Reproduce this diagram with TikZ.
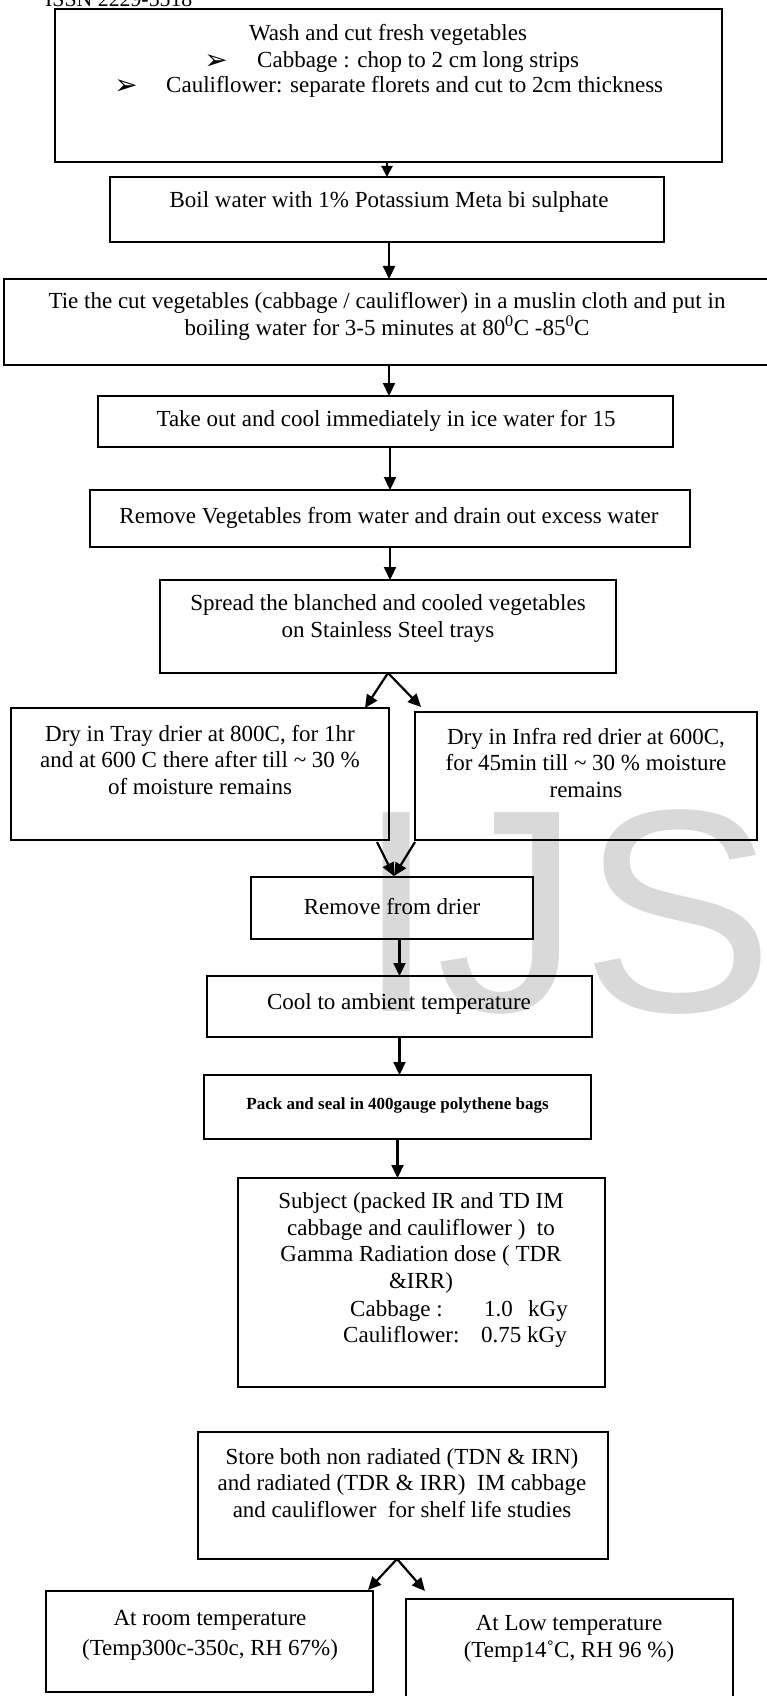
\documentclass[tikz,border=0pt]{standalone}
\usepackage{fontspec}
\setmainfont{Liberation Serif}
\newfontfamily\wmfont{Liberation Sans}
\newfontfamily\symfont{DejaVu Sans}
\usetikzlibrary{arrows.meta,calc}
\newcommand\mkbox[5]{\node[box, minimum width={#4-#2}, minimum height={#5-#3}] (#1) at ({(#2+#4)/2},{(#3+#5)/2}) {};}
\tikzset{
  box/.style={draw, line width=1.8pt, inner sep=0pt, outer sep=0pt},
  txt/.style={inner sep=0pt, align=center, font=\fontsize{23}{26.5}\selectfont},
  btxt/.style={inner sep=0pt, align=center, font=\bfseries\fontsize{17}{19}\selectfont},
  bul/.style={inner sep=0pt, font=\symfont\fontsize{28}{28}\selectfont},
  arr/.style={line width=2.2pt, -{Triangle[length=13pt,width=12pt]}},
}
\begin{document}
\begin{tikzpicture}[x=1pt,y=-1pt]
\useasboundingbox (0,0) rectangle (767,1696);
\clip (0,0) rectangle (767,1696);
\fill[white] (0,0) rectangle (767,1696);
% watermark
\node[font=\wmfont\fontsize{289}{289}\selectfont, text=black!15, anchor=base west, inner sep=0pt] (wm) at (356,1011) {IJS};
% header
\node[inner sep=0pt, font=\fontsize{21.8}{24}\selectfont, anchor=base west] (issn) at (45,7) {ISSN 2229-5518};
% boxes
\mkbox{b1}{55}{9}{722}{162}
\mkbox{b2}{110}{177}{664}{242}
\mkbox{b3}{4}{279}{774}{365}
\mkbox{b4}{98}{396}{673}{447}
\mkbox{b5}{90}{490}{690}{547}
\mkbox{b6}{160}{580}{616}{673}
\mkbox{b7}{11}{708}{389}{840}
\mkbox{b8}{415}{712}{757}{840}
\mkbox{b9}{251}{877}{533}{939}
\mkbox{b10}{207}{976}{592}{1037}
\mkbox{b11}{204}{1075}{591}{1139}
\mkbox{b12}{238}{1178}{605}{1387}
\mkbox{b13}{198}{1432}{608}{1559}
\mkbox{b14}{46}{1591}{373}{1692}
\mkbox{b15}{406}{1599}{733}{1720}
% texts
\node[txt] (t1a) at (388,35) {Wash and cut fresh vegetables};
\node[bul] (u1) at (216,62) {➢};
\node[txt, anchor=west] (t1b) at (257,62) {Cabbage : chop to 2 cm long strips};
\node[bul] (u2) at (126,87) {➢};
\node[txt, anchor=west] (t1c) at (166,87) {Cauliflower: separate florets and cut to 2cm thickness};
\node[txt] (t2) at (389,202) {Boil water with 1\% Potassium Meta bi sulphate};
\node[txt, font=\fontsize{23}{27}\selectfont] (t3) at (387,316.5) {Tie the cut vegetables (cabbage / cauliflower) in a muslin cloth and put in\\boiling water for 3-5 minutes at 80\textsuperscript{0}C -85\textsuperscript{0}C};
\node[txt] (t4) at (386,421) {Take out and cool immediately in ice water for 15};
\node[txt] (t5) at (389,518) {Remove Vegetables from water and drain out excess water};
\node[txt, font=\fontsize{23}{27}\selectfont] (t6) at (388,618.5) {Spread the blanched and cooled vegetables\\on Stainless Steel trays};
\node[txt] (t7) at (200,760) {Dry in Tray drier at 800C, for 1hr\\and at 600 C there after till \char`\~{} 30 \%\\of moisture remains};
\node[txt] (t8) at (586,763) {Dry in Infra red drier at 600C,\\for 45min till \char`\~{} 30 \% moisture\\remains};
\node[txt] (t9) at (392,907) {Remove from drier};
\node[txt] (t10) at (399,1004) {Cool to ambient temperature};
\node[btxt] (t11) at (397.5,1105) {Pack and seal in 400gauge polythene bags};
\node[txt] (t12) at (421,1243) {Subject (packed IR and TD IM\\cabbage and cauliflower )\ \ to\\Gamma Radiation dose ( TDR\\\&IRR)};
\node[txt, anchor=base west] (t12a) at (350,1316) {Cabbage :};
\node[txt, anchor=base west] (t12b) at (484,1316) {1.0};
\node[txt, anchor=base west] (t12c) at (528,1316) {kGy};
\node[txt, anchor=base west] (t12d) at (343,1342) {Cauliflower:};
\node[txt, anchor=base west] (t12e) at (481,1342) {0.75 kGy};
\node[txt] (t13) at (402,1483) {Store both non radiated (TDN \& IRN)\\and radiated (TDR \& IRR)\ \ IM cabbage\\and cauliflower\ \ for shelf life studies};
\node[txt, font=\fontsize{23}{30}\selectfont] (t14) at (210,1635) {At room temperature\\(Temp300c-350c, RH 67\%)};
\node[txt, font=\fontsize{23}{27}\selectfont] (t15) at (569,1638.5) {At Low temperature\\(Temp14˚C, RH 96 \%)};
% connectors
\draw[line width=2.2pt, -{Triangle[length=11pt,width=11pt]}] (b2.north |- b1.south) -- (b2.north);
\draw[arr] (b3.north |- b2.south) -- (b3.north);
\draw[arr] (b3.south) -- (b3.south |- b4.north);
\draw[arr] (b5.north |- b4.south) -- (b5.north);
\draw[arr] (b5.south) -- (b5.south |- b6.north);
\coordinate (f1) at (365,708);
\coordinate (f2) at (421,707);
\draw[arr] (b6.south) -- (f1);
\draw[arr] (b6.south) -- (f2);
\coordinate (m1) at (377,842);
\coordinate (m2) at (415,842);
\draw[arr] (m1) -- ($(b9.north)+(2,-1)$);
\draw[arr] (m2) -- ($(b9.north)+(2,-1)$);
\draw[arr] (b10.north |- b9.south) -- (b10.north);
\draw[arr] (b10.south) -- (b10.south |- b11.north);
\draw[arr] (b11.south) -- (b11.south |- b12.north);
\coordinate (g1) at (368,1590);
\coordinate (g2) at (425,1591);
\draw[arr] ($(b13.south)+(-6,0)$) -- (g1);
\draw[arr] ($(b13.south)+(-6,0)$) -- (g2);
\end{tikzpicture}
\end{document}
